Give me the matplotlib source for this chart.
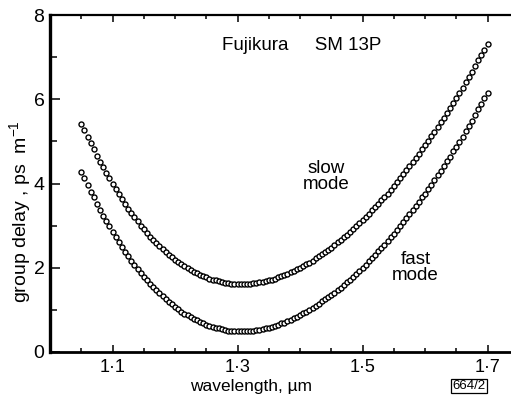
"""Group delay of the two polarisation modes, Fujikura SM 13P fibre."""

import numpy as np
import matplotlib
matplotlib.use("Agg")
import matplotlib.pyplot as plt
from matplotlib.ticker import FixedLocator, FixedFormatter, MultipleLocator

# wavelength grid of the measurement (um), one point every 0.005 um
LAMBDA_START = 1.05
LAMBDA_END = 1.70
N_POINTS = 131

# group delay, ps/m
slow_mode = [
    5.42, 5.26, 5.11, 4.95, 4.81, 4.66, 4.52, 4.38, 4.25, 4.12,
    3.99, 3.87, 3.74, 3.63, 3.51, 3.40, 3.30, 3.20, 3.10, 3.00,
    2.91, 2.82, 2.74, 2.66, 2.58, 2.51, 2.44, 2.37, 2.31, 2.25,
    2.19, 2.13, 2.08, 2.03, 1.99, 1.94, 1.90, 1.87, 1.83, 1.80,
    1.77, 1.74, 1.72, 1.70, 1.68, 1.66, 1.64, 1.63, 1.62, 1.61,
    1.61, 1.61, 1.61, 1.61, 1.62, 1.63, 1.64, 1.65, 1.66, 1.68,
    1.70, 1.72, 1.74, 1.77, 1.80, 1.82, 1.86, 1.89, 1.92, 1.96,
    2.00, 2.04, 2.08, 2.12, 2.17, 2.22, 2.27, 2.32, 2.37, 2.42,
    2.48, 2.54, 2.60, 2.66, 2.72, 2.78, 2.85, 2.92, 2.99, 3.06,
    3.13, 3.20, 3.28, 3.36, 3.44, 3.52, 3.60, 3.68, 3.76, 3.85,
    3.94, 4.03, 4.12, 4.22, 4.31, 4.41, 4.50, 4.60, 4.70, 4.81,
    4.91, 5.02, 5.12, 5.23, 5.34, 5.45, 5.56, 5.68, 5.79, 5.91,
    6.03, 6.15, 6.27, 6.40, 6.53, 6.65, 6.78, 6.92, 7.05, 7.18,
    7.32,
]
fast_mode = [
    4.28, 4.12, 3.97, 3.81, 3.67, 3.52, 3.38, 3.24, 3.11, 2.98,
    2.86, 2.74, 2.61, 2.50, 2.38, 2.27, 2.17, 2.07, 1.97, 1.87,
    1.79, 1.70, 1.62, 1.54, 1.46, 1.39, 1.32, 1.25, 1.19, 1.13,
    1.07, 1.01, 0.96, 0.91, 0.87, 0.82, 0.78, 0.75, 0.71, 0.68,
    0.65, 0.62, 0.60, 0.58, 0.56, 0.54, 0.52, 0.51, 0.50, 0.49,
    0.49, 0.49, 0.49, 0.49, 0.50, 0.51, 0.52, 0.53, 0.54, 0.56,
    0.58, 0.60, 0.62, 0.65, 0.68, 0.70, 0.74, 0.77, 0.80, 0.84,
    0.88, 0.92, 0.96, 1.00, 1.05, 1.10, 1.15, 1.20, 1.25, 1.30,
    1.35, 1.41, 1.47, 1.53, 1.59, 1.65, 1.72, 1.79, 1.86, 1.93,
    2.00, 2.07, 2.15, 2.23, 2.31, 2.39, 2.47, 2.55, 2.63, 2.72,
    2.80, 2.89, 2.98, 3.08, 3.17, 3.27, 3.36, 3.46, 3.56, 3.67,
    3.76, 3.87, 3.97, 4.08, 4.19, 4.30, 4.41, 4.53, 4.64, 4.76,
    4.87, 4.99, 5.11, 5.24, 5.37, 5.49, 5.62, 5.76, 5.89, 6.02,
    6.16,
]

x_ticks = [1.1, 1.3, 1.5, 1.7]
x_tick_labels = ["1\u00b71", "1\u00b73", "1\u00b75", "1\u00b77"]
y_ticks = [0, 2, 4, 6, 8]

plt.rcParams["font.family"] = ["Liberation Sans", "DejaVu Sans"]
plt.rcParams["mathtext.fontset"] = "custom"
plt.rcParams["mathtext.rm"] = "Liberation Sans"
plt.rcParams["mathtext.it"] = "Liberation Sans"

wavelength = np.linspace(LAMBDA_START, LAMBDA_END, N_POINTS)

fig = plt.figure(figsize=(5.11, 3.96), dpi=100)
ax = fig.add_axes([50 / 511, 44 / 396, 461 / 511, 337 / 396])

marker_style = dict(linestyle="none", marker="o", markersize=3.6,
                    markerfacecolor="white", markeredgecolor="black",
                    markeredgewidth=1.0)
ax.plot(wavelength, slow_mode, **marker_style)
ax.plot(wavelength, fast_mode, **marker_style)

ax.set_xlim(1.0, 1.0 + 461 / 625)
ax.set_ylim(0, 8)

ax.xaxis.set_major_locator(FixedLocator(x_ticks))
ax.xaxis.set_major_formatter(FixedFormatter(x_tick_labels))
ax.xaxis.set_minor_locator(MultipleLocator(0.05))
ax.yaxis.set_major_locator(FixedLocator(y_ticks))
ax.yaxis.set_minor_locator(MultipleLocator(1))

ax.tick_params(axis="x", which="both", direction="in", top=True,
               labelsize=13, pad=5, width=1.1)
ax.tick_params(axis="x", which="major", length=5)
ax.tick_params(axis="x", which="minor", length=3)
ax.tick_params(axis="y", which="both", direction="in", right=False,
               labelsize=14, pad=4, width=1.1)
ax.tick_params(axis="y", which="major", length=7)
ax.tick_params(axis="y", which="minor", length=5)

ax.spines["right"].set_visible(False)
ax.spines["left"].set_linewidth(2.4)
ax.spines["bottom"].set_linewidth(2.0)
ax.spines["top"].set_linewidth(1.6)

ax.text(1.276, 7.27, "Fujikura     SM 13P", fontsize=13.5, va="center",
        ha="left")
ax.text(1.442, 4.16, "slow\nmode", fontsize=13.5, va="center", ha="center",
        linespacing=0.95)
ax.text(1.585, 2.0, "fast\nmode", fontsize=13.5, va="center", ha="center",
        linespacing=0.95)

fig.text(20 / 511, 1 - 212 / 396, "group delay , ps  m$^{-1}$", rotation=90,
         fontsize=14, ha="center", va="center")
fig.text(251 / 511, 1 - 387 / 396, "wavelength, \u00b5m", fontsize=12.5,
         ha="center", va="center")
fig.text(469 / 511, 1 - 386 / 396, "664/2", fontsize=9.5, ha="center",
         va="center",
         bbox=dict(boxstyle="square,pad=0.1", facecolor="white",
                   edgecolor="black", linewidth=0.9))

fig.savefig("out.png", dpi=100)
